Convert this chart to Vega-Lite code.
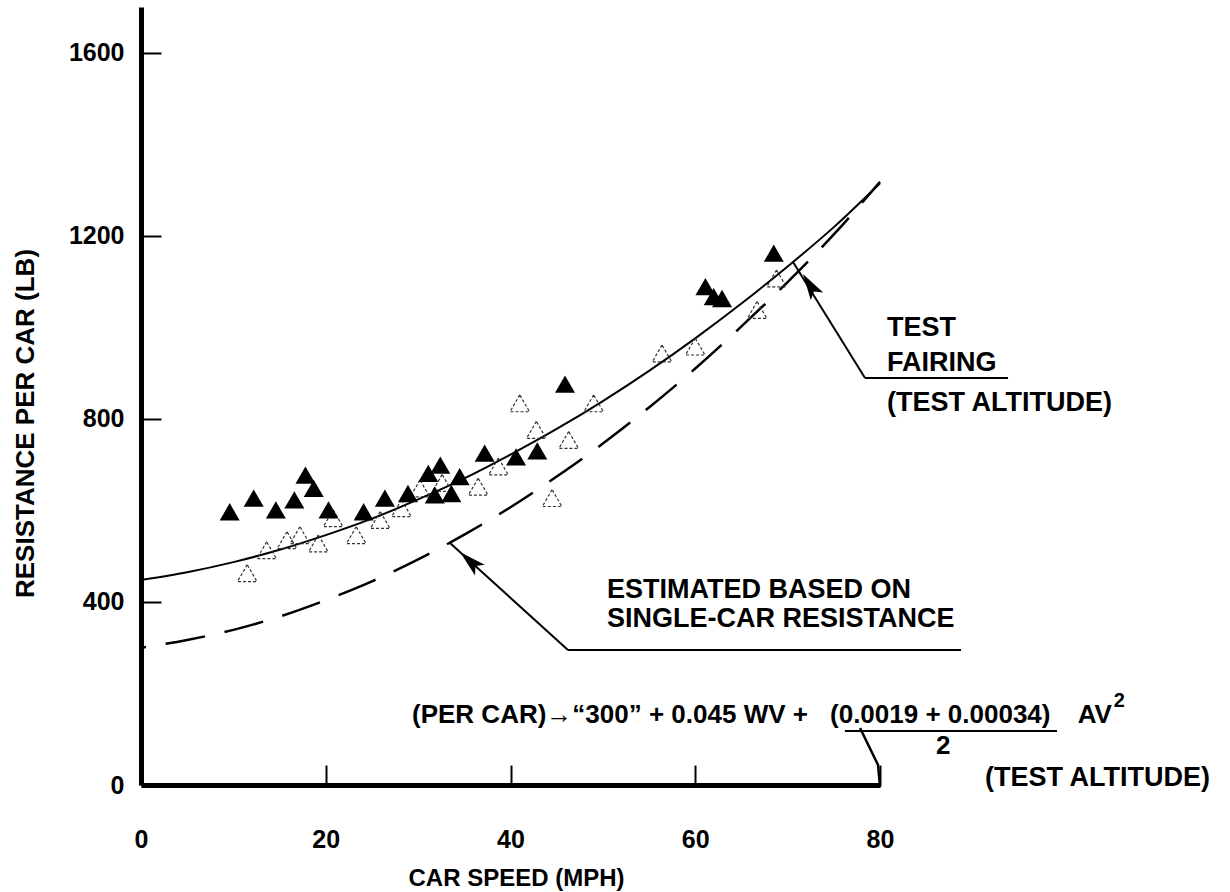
{
  "$schema": "https://vega.github.io/schema/vega-lite/v6.json",
  "width": 739,
  "height": 778,
  "autosize": "none",
  "padding": {"left": 141, "top": 7, "right": 350, "bottom": 107},
  "background": "white",
  "config": {
    "view": {"stroke": null},
    "font": "Liberation Sans",
    "axis": {
      "grid": false,
      "domainColor": "black",
      "domainWidth": 5,
      "tickColor": "black",
      "tickWidth": 2,
      "tickSize": -20,
      "labelFont": "Liberation Sans",
      "labelFontWeight": "bold",
      "labelFontSize": 25,
      "labelColor": "black",
      "labelOverlap": false,
      "labelFlush": false,
      "titleFont": "Liberation Sans",
      "titleFontWeight": "bold",
      "titleColor": "black"
    }
  },
  "datasets": {
    "fairing": [
      {"v": 0, "r": 448}, {"v": 5, "r": 465}, {"v": 10, "r": 487}, {"v": 15, "r": 514},
      {"v": 20, "r": 546}, {"v": 25, "r": 582}, {"v": 30, "r": 624}, {"v": 35, "r": 670},
      {"v": 40, "r": 722}, {"v": 45, "r": 778}, {"v": 50, "r": 839}, {"v": 55, "r": 905},
      {"v": 60, "r": 976}, {"v": 65, "r": 1052}, {"v": 70, "r": 1133}, {"v": 75, "r": 1219},
      {"v": 80, "r": 1315}
    ],
    "estimated": [
      {"v": 0, "r": 300}, {"v": 5, "r": 317}, {"v": 10, "r": 339}, {"v": 15, "r": 368},
      {"v": 20, "r": 404}, {"v": 25, "r": 445}, {"v": 30, "r": 493}, {"v": 35, "r": 547},
      {"v": 40, "r": 607}, {"v": 45, "r": 674}, {"v": 50, "r": 746}, {"v": 55, "r": 825},
      {"v": 60, "r": 910}, {"v": 65, "r": 1002}, {"v": 70, "r": 1099}, {"v": 75, "r": 1203},
      {"v": 80, "r": 1318}
    ],
    "filledPts": [
      {"v": 9.6, "r": 597}, {"v": 12.2, "r": 627}, {"v": 14.6, "r": 601}, {"v": 16.6, "r": 623},
      {"v": 17.8, "r": 677}, {"v": 18.7, "r": 648}, {"v": 20.3, "r": 601}, {"v": 24.1, "r": 597},
      {"v": 26.4, "r": 627}, {"v": 28.9, "r": 637}, {"v": 31.1, "r": 681}, {"v": 32.4, "r": 699},
      {"v": 31.8, "r": 634}, {"v": 33.6, "r": 637}, {"v": 34.5, "r": 674}, {"v": 37.2, "r": 725},
      {"v": 40.6, "r": 717}, {"v": 42.9, "r": 730}, {"v": 45.9, "r": 876}, {"v": 61.1, "r": 1089},
      {"v": 62.0, "r": 1067}, {"v": 62.9, "r": 1063}, {"v": 68.5, "r": 1162}
    ],
    "openPts": [
      {"v": 11.5, "r": 463}, {"v": 13.6, "r": 513}, {"v": 15.8, "r": 535}, {"v": 17.2, "r": 546},
      {"v": 19.2, "r": 528}, {"v": 20.8, "r": 583}, {"v": 23.3, "r": 546}, {"v": 25.9, "r": 579},
      {"v": 28.2, "r": 605}, {"v": 30.2, "r": 648}, {"v": 32.6, "r": 660}, {"v": 36.5, "r": 652},
      {"v": 38.7, "r": 696}, {"v": 41.0, "r": 834}, {"v": 42.8, "r": 776}, {"v": 44.5, "r": 627},
      {"v": 46.3, "r": 754}, {"v": 49.0, "r": 834}, {"v": 56.4, "r": 943}, {"v": 60.0, "r": 958},
      {"v": 66.7, "r": 1038}, {"v": 68.8, "r": 1107}
    ],
    "leaders": [
      {"v": 78.38, "r": 889.3, "v2": 70.58, "r2": 1142.8},
      {"v": 78.38, "r": 889.3, "v2": 93.86, "r2": 889.3},
      {"v": 46.22, "r": 295, "v2": 33.45, "r2": 528.8},
      {"v": 46.22, "r": 295, "v2": 88.77, "r2": 295},
      {"v": 76.2, "r": 118, "v2": 99.16, "r2": 118}
    ],
    "headFairing": [{"v": 72.42, "r": 1092}],
    "headEstimated": [{"v": 35.62, "r": 489}],
    "bracket": [
      {"v": 77.84, "r": 124.5}, {"v": 79.79, "r": 43.7}, {"v": 80.0, "r": -4.4}
    ],
    "labels": [
      {"text": "TEST", "v": 80.76, "r": 999},
      {"text": "FAIRING", "v": 80.76, "r": 922},
      {"text": "(TEST ALTITUDE)", "v": 80.76, "r": 835},
      {"text": "ESTIMATED BASED  ON", "v": 50.45, "r": 426},
      {"text": "SINGLE-CAR RESISTANCE", "v": 50.45, "r": 363},
      {"text": "(TEST ALTITUDE)", "v": 91.37, "r": 15}
    ],
    "formula": [
      {"text": "(PER CAR)→“300” + 0.045 WV +", "v": 29.34, "r": 153},
      {"text": "(0.0019 + 0.00034)", "v": 74.59, "r": 153},
      {"text": "AV", "v": 101.4, "r": 153},
      {"text": "2", "v": 86.06, "r": 85}
    ],
    "superscript": [{"text": "2", "v": 105.3, "r": 183}]
  },
  "encoding": {
    "x": {
      "field": "v",
      "type": "quantitative",
      "scale": {"domain": [0, 80], "nice": false, "zero": false},
      "axis": {
        "title": "CAR SPEED (MPH)",
        "values": [0, 20, 40, 60, 80],
        "format": "d",
        "labelPadding": 62,
        "titleFontSize": 24,
        "titleX": 375,
        "titleY": 93,
        "titleBaseline": "middle"
      }
    },
    "y": {
      "field": "r",
      "type": "quantitative",
      "scale": {"domain": [0, 1700], "nice": false, "zero": false},
      "axis": {
        "title": "RESISTANCE PER CAR (LB)",
        "values": [0, 400, 800, 1200, 1600],
        "format": "d",
        "labelPadding": 37,
        "titleFontSize": 26,
        "titleX": -108,
        "titleY": 416,
        "titleBaseline": "alphabetic"
      }
    }
  },
  "layer": [
    {
      "data": {"name": "fairing"},
      "mark": {"type": "line", "color": "black", "strokeWidth": 2, "interpolate": "monotone"}
    },
    {
      "data": {"name": "estimated"},
      "mark": {"type": "line", "color": "black", "strokeWidth": 2.5, "interpolate": "monotone", "strokeDash": [40, 20], "strokeDashOffset": 35}
    },
    {
      "data": {"name": "openPts"},
      "mark": {"type": "point", "shape": "triangle-up", "filled": false, "stroke": "#333333", "strokeWidth": 1.2, "strokeDash": [3, 2], "size": 380, "opacity": 1}
    },
    {
      "data": {"name": "filledPts"},
      "mark": {"type": "point", "shape": "triangle-up", "filled": true, "color": "black", "size": 400, "opacity": 1}
    },
    {
      "data": {"name": "leaders"},
      "mark": {"type": "rule", "color": "black", "strokeWidth": 2},
      "encoding": {"x2": {"field": "v2"}, "y2": {"field": "r2"}}
    },
    {
      "data": {"name": "headFairing"},
      "mark": {"type": "point", "shape": "M0,-1L-0.55,1L0,0.55L0.55,1Z", "filled": true, "color": "black", "size": 700, "angle": 328, "opacity": 1}
    },
    {
      "data": {"name": "headEstimated"},
      "mark": {"type": "point", "shape": "M0,-1L-0.55,1L0,0.55L0.55,1Z", "filled": true, "color": "black", "size": 700, "angle": 312, "opacity": 1}
    },
    {
      "data": {"name": "bracket"},
      "mark": {"type": "line", "color": "black", "strokeWidth": 2.5}
    },
    {
      "data": {"name": "labels"},
      "mark": {"type": "text", "align": "left", "baseline": "middle", "font": "Liberation Sans", "fontWeight": "bold", "fontSize": 27, "color": "black"},
      "encoding": {"text": {"field": "text"}}
    },
    {
      "data": {"name": "formula"},
      "mark": {"type": "text", "align": "left", "baseline": "middle", "font": "Liberation Sans", "fontWeight": "bold", "fontSize": 26, "color": "black"},
      "encoding": {"text": {"field": "text"}}
    },
    {
      "data": {"name": "superscript"},
      "mark": {"type": "text", "align": "left", "baseline": "middle", "font": "Liberation Sans", "fontWeight": "bold", "fontSize": 20, "color": "black"},
      "encoding": {"text": {"field": "text"}}
    }
  ]
}
